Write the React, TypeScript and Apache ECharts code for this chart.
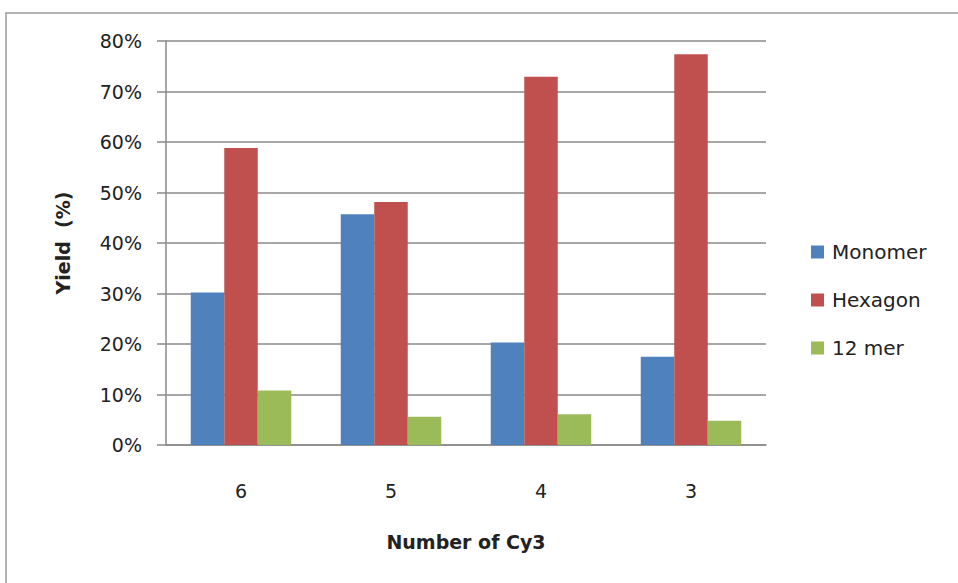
import React, { useEffect, useRef } from "react";
import * as echarts from "echarts";

const categories = ["6", "5", "4", "3"];
const monomer = [30.2, 45.7, 20.3, 17.5];
const hexagon = [58.8, 48.1, 72.9, 77.4];
const mer12 = [10.8, 5.6, 6.1, 4.8];
const yTicks = { min: 0, max: 80, interval: 10 };

const FONT = "DejaVu Sans";
const GRID_COLOR = "#8a8a8a";

export default function App() {
  const ref = useRef<HTMLDivElement>(null);
  useEffect(() => {
    if (!ref.current) return;
    const chart = echarts.init(ref.current, null, { renderer: "svg" });
    chart.setOption({
      animation: false,
      backgroundColor: "#ffffff",
      graphic: [
        {
          type: "rect",
          shape: { x: 6, y: 13, width: 1000, height: 620 },
          style: { fill: "none", stroke: "#9a9a9a", lineWidth: 1.5 },
          silent: true,
        },
      ],
      grid: { left: 166, right: 192, top: 41, bottom: 138 },
      legend: {
        orient: "vertical",
        left: 806,
        top: 235,
        itemWidth: 13,
        itemHeight: 13,
        itemGap: 24,
        icon: "rect",
        textStyle: {
          fontFamily: FONT,
          fontSize: 20,
          color: "#222",
          lineHeight: 24,
          padding: [0, 0, 0, 3],
        },
        data: ["Monomer", "Hexagon", "12 mer"],
      },
      xAxis: {
        type: "category",
        data: categories,
        name: "Number of Cy3",
        nameLocation: "middle",
        nameGap: 87,
        nameTextStyle: { fontFamily: FONT, fontSize: 19, fontWeight: "bold", color: "#222" },
        axisLine: { lineStyle: { color: GRID_COLOR, width: 1.5 } },
        axisTick: { show: false },
        axisLabel: { fontFamily: FONT, fontSize: 19, color: "#222", margin: 36 },
      },
      yAxis: {
        type: "value",
        min: yTicks.min,
        max: yTicks.max,
        interval: yTicks.interval,
        name: "Yield  (%)",
        nameLocation: "middle",
        nameGap: 94,
        nameTextStyle: { fontFamily: FONT, fontSize: 19, fontWeight: "bold", color: "#222" },
        axisLine: { show: true, lineStyle: { color: GRID_COLOR, width: 1.5 } },
        axisTick: { show: true, length: 9, lineStyle: { color: GRID_COLOR, width: 1.5 } },
        axisLabel: {
          fontFamily: FONT,
          fontSize: 19,
          color: "#222",
          margin: 24,
          formatter: "{value}%",
        },
        splitLine: { lineStyle: { color: GRID_COLOR, width: 1.5 } },
      },
      series: [
        {
          name: "Monomer",
          type: "bar",
          data: monomer,
          itemStyle: { color: "#4F81BD" },
          barGap: "0%",
          barCategoryGap: "33%",
        },
        {
          name: "Hexagon",
          type: "bar",
          data: hexagon,
          itemStyle: { color: "#C0504D" },
          barGap: "0%",
          barCategoryGap: "33%",
        },
        {
          name: "12 mer",
          type: "bar",
          data: mer12,
          itemStyle: { color: "#9BBB59" },
          barGap: "0%",
          barCategoryGap: "33%",
        },
      ],
    });
    return () => chart.dispose();
  }, []);
  return (
    <div
      ref={ref}
      style={{ position: "absolute", left: 0, top: 0, width: 958, height: 583 }}
    />
  );
}
